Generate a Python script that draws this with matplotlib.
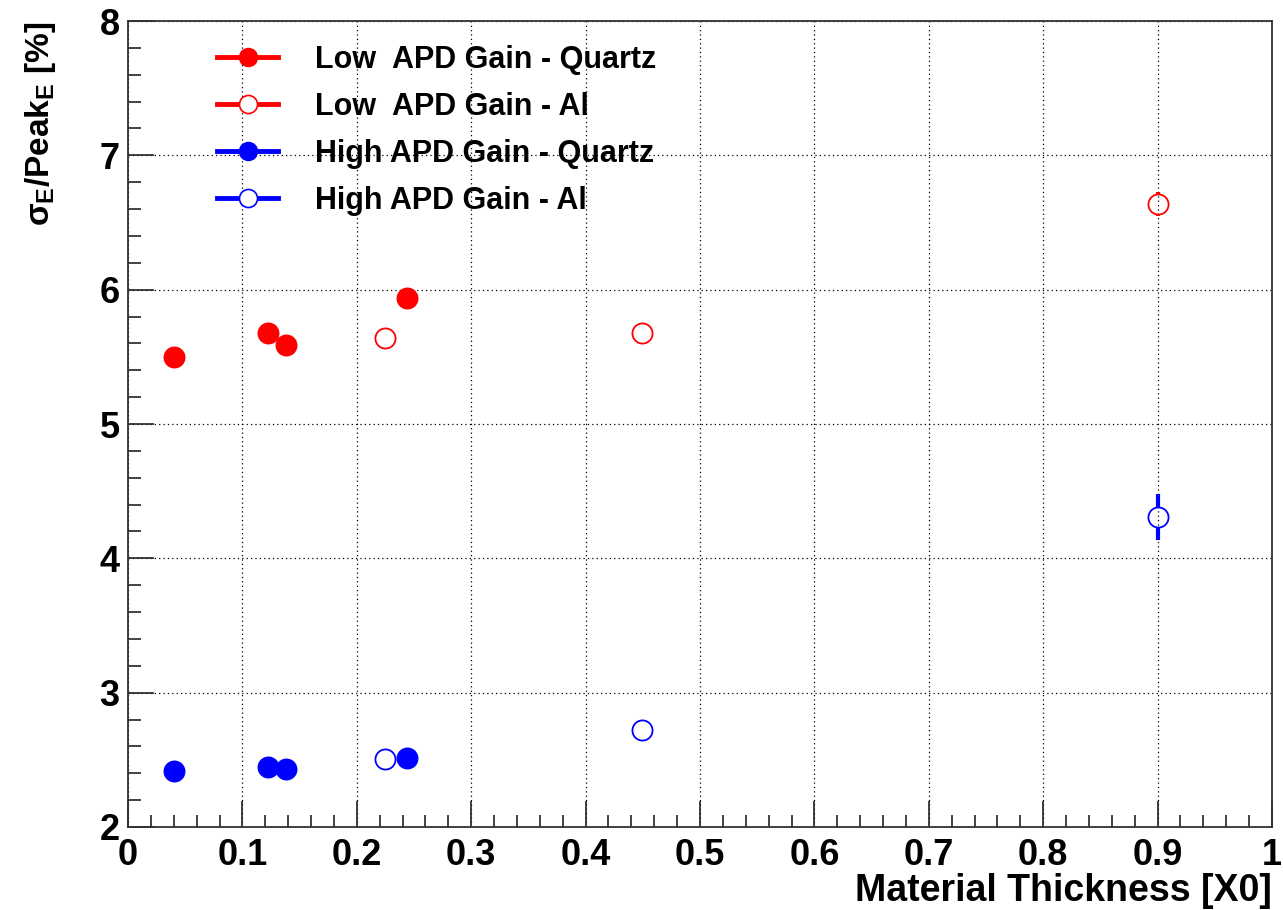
import numpy as np
import matplotlib
matplotlib.use("Agg")
import matplotlib.pyplot as plt
from matplotlib.lines import Line2D

plt.rcParams['font.family'] = ['Liberation Sans', 'DejaVu Sans']
plt.rcParams['font.weight'] = 'bold'
plt.rcParams['mathtext.fontset'] = 'custom'
plt.rcParams['mathtext.rm'] = 'Liberation Sans:bold'
plt.rcParams['mathtext.it'] = 'Liberation Sans:bold'
plt.rcParams['mathtext.bf'] = 'Liberation Sans:bold'

# energy resolution vs material thickness in front of the crystal
x_low_quartz = [0.040, 0.122, 0.138, 0.244]
y_low_quartz = [5.50, 5.68, 5.59, 5.94]
e_low_quartz = [0.03, 0.03, 0.03, 0.05]

x_low_al = [0.225, 0.449, 0.900]
y_low_al = [5.64, 5.68, 6.64]
e_low_al = [0.03, 0.03, 0.09]

x_high_quartz = [0.040, 0.122, 0.138, 0.244]
y_high_quartz = [2.42, 2.445, 2.43, 2.51]
e_high_quartz = [0.03, 0.03, 0.03, 0.03]

x_high_al = [0.225, 0.449, 0.900]
y_high_al = [2.505, 2.72, 4.31]
e_high_al = [0.03, 0.03, 0.17]

labels = ["Low  APD Gain - Quartz", "Low  APD Gain - Al",
          "High APD Gain - Quartz", "High APD Gain - Al"]

red = '#ff0000'
blue = '#0000ff'

fig = plt.figure(figsize=(12.83, 9.10), dpi=100)
ax = fig.add_axes([128 / 1283, 83 / 910, 1144 / 1283, 806 / 910])

ax.set_xlim(0, 1)
ax.set_ylim(2, 8)

ms = 14.5
# marker radius in data units, so error bars stop at the marker edge
px_per_unit = 806 / 6.0
r = (ms * 100 / 72) / 2 / px_per_unit


def draw_points(x, y, err, color, filled):
    x = np.asarray(x)
    y = np.asarray(y)
    err = np.asarray(err)
    for xi, yi, ei in zip(x, y, err):
        if ei > r:
            ax.vlines([xi, xi], [yi + r, yi - ei], [yi + ei, yi - r], color=color,
                      lw=3, zorder=3)
    ax.plot(x, y, 'o', color=color, ms=ms, mfc=color if filled else 'none',
            mew=1.3, zorder=4)


draw_points(x_low_quartz, y_low_quartz, e_low_quartz, red, True)
draw_points(x_low_al, y_low_al, e_low_al, red, False)
draw_points(x_high_quartz, y_high_quartz, e_high_quartz, blue, True)
draw_points(x_high_al, y_high_al, e_high_al, blue, False)

ax.set_xticks(np.arange(0, 1.01, 0.1))
ax.set_xticklabels(['0', '0.1', '0.2', '0.3', '0.4', '0.5', '0.6', '0.7', '0.8', '0.9', '1'])
ax.set_xticks(np.arange(0, 1.001, 0.02), minor=True)
ax.set_yticks(np.arange(2, 8.01, 1))
ax.set_yticks(np.arange(2, 8.01, 0.2), minor=True)

ax.tick_params(which='both', direction='in', top=False, right=False,
               labelsize=26, width=1.2, color='#222222')
ax.tick_params(axis='x', which='major', length=19, pad=8)
ax.tick_params(axis='x', which='minor', length=9)
ax.tick_params(axis='y', which='major', length=19, pad=6)
ax.tick_params(axis='y', which='minor', length=9)
for lab in ax.get_xticklabels() + ax.get_yticklabels():
    lab.set_fontweight('bold')

ax.grid(True, which='major', color='black', linestyle=(0, (1, 2.5)), linewidth=0.9)
for s in ax.spines.values():
    s.set_linewidth(1.3)
    s.set_color('#333333')

ax.set_xlabel('Material Thickness [X0]', fontsize=27, fontweight='bold',
              loc='right', labelpad=0)
ax.set_ylabel(r'$\sigma_{E}$/Peak$_{E}$ [%]', fontsize=24, fontweight='bold',
              loc='top', labelpad=30)

handles = [
    Line2D([], [], color=red, lw=3.5, marker='o', ms=13),
    Line2D([], [], color=red, lw=3.5, marker='o', ms=13, mfc='white', mew=1.2),
    Line2D([], [], color=blue, lw=3.5, marker='o', ms=13),
    Line2D([], [], color=blue, lw=3.5, marker='o', ms=13, mfc='white', mew=1.2),
]
leg = ax.legend(handles, labels, loc='upper left', bbox_to_anchor=(0.078, 0.97),
                frameon=False, fontsize=22, handlelength=2.0, handletextpad=1.2,
                labelspacing=0.55, borderpad=0, borderaxespad=0)
for t in leg.get_texts():
    t.set_fontweight('bold')

fig.savefig('out.png', dpi=100)
